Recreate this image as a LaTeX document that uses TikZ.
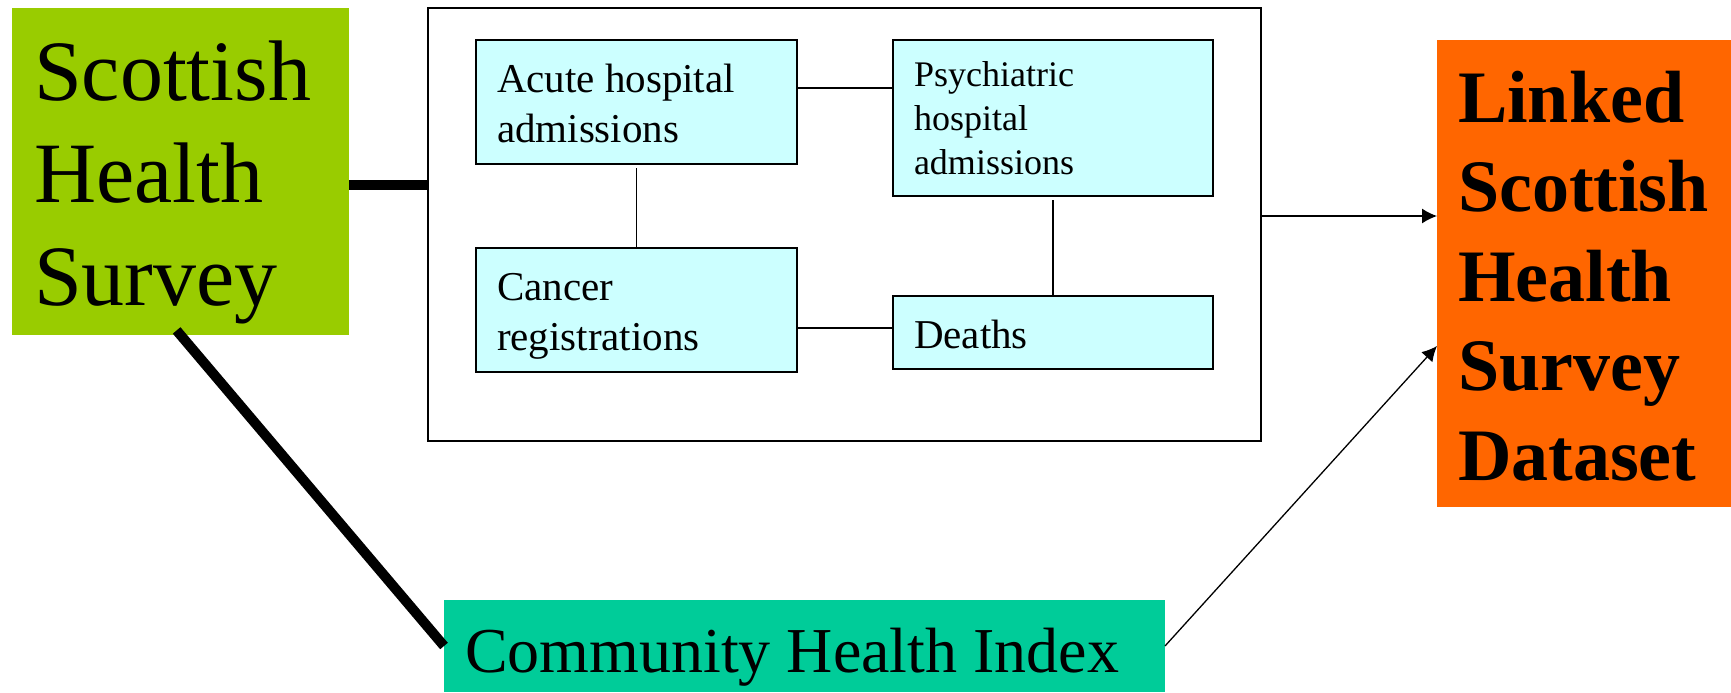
\documentclass[tikz,border=0pt]{standalone}
\usepackage{fontspec}
\setmainfont{Liberation Serif}
\usetikzlibrary{arrows.meta}
\definecolor{shsgreen}{HTML}{99CC00}
\definecolor{boxcyan}{HTML}{CCFFFF}
\definecolor{linkorange}{HTML}{FF6600}
\definecolor{chiteal}{HTML}{00CC99}
% #1 width, #2 height, #3 left pad, #4 first baseline, #5 font size, #6 baselineskip, #7 text
\newcommand\boxtext[7]{\parbox[c][#2][t]{#1}{\fontsize{#5}{#6}\selectfont\leftskip=#3\relax\rightskip=0pt plus 1fil\relax\parindent=0pt\relax
\vspace*{\dimexpr#4-#5\relax}\rule{0pt}{#5}#7\par}}
\tikzset{
  plainbox/.style={anchor=north west, inner sep=0pt, outer sep=0pt},
  srcbox/.style={plainbox, draw=black, line width=0.6pt, fill=boxcyan},
  thinlink/.style={line width=0.6pt},
  thicklink/.style={line width=5pt},
  arrowlink/.style={line width=0.65pt, -{Latex[length=7.5pt,width=7.5pt]}}
}
\begin{document}
\begin{tikzpicture}[x=0.5pt,y=-0.5pt]
\useasboundingbox (0,0) rectangle (1731,692);
% main boxes
\node[plainbox, fill=shsgreen] (shs) at (12,8)
  {\boxtext{168.5pt}{163.5pt}{11pt}{46pt}{43pt}{51.25pt}{Scottish\\Health\\Survey}};
\node[plainbox, draw=black, line width=0.6pt, minimum width=416.5pt, minimum height=216.5pt] (outer) at (428,8) {};
\node[srcbox] (acute) at (476,40)
  {\boxtext{160.5pt}{62pt}{10.5pt}{26pt}{20.5pt}{25pt}{Acute hospital\\admissions}};
\node[srcbox] (psych) at (893,40)
  {\boxtext{160pt}{78pt}{10.5pt}{23pt}{18pt}{22pt}{Psychiatric\\hospital\\admissions}};
\node[srcbox] (cancer) at (476,248)
  {\boxtext{160.5pt}{62pt}{10.5pt}{26pt}{20.5pt}{25pt}{Cancer\\registrations}};
\node[srcbox] (deaths) at (893,296)
  {\boxtext{160pt}{36.5pt}{10.5pt}{26pt}{20.5pt}{25pt}{Deaths}};
\node[plainbox, fill=linkorange] (linked) at (1437,40)
  {\boxtext{147pt}{233.5pt}{10.5pt}{41pt}{37pt}{44.75pt}{\bfseries Linked\\Scottish\\Health\\Survey\\Dataset}};
\node[plainbox, fill=chiteal] (chi) at (444,600)
  {\boxtext{360.5pt}{46pt}{10.5pt}{36pt}{32pt}{38pt}{Community Health Index}};
% helper coordinates for connector heights
\coordinate (yap) at (0,88);
\coordinate (ycd) at (0,328);
\coordinate (yshs) at (0,185);
\coordinate (yout) at (0,216);
\coordinate (ychi) at (0,346);
% links inside the outer box
\draw[thinlink] (acute.east |- yap) -- (psych.west |- yap);
\draw[thinlink] (cancer.east |- ycd) -- (deaths.west |- ycd);
\draw[thinlink] ([yshift=-2pt]acute.south) -- (cancer.north);
\draw[thinlink] ([yshift=-2pt]psych.south) -- (deaths.north);
% thick links from the survey
\draw[thicklink] (shs.east |- yshs) -- (outer.west |- yshs);
\draw[thicklink, shorten <=-3pt] (shs.south) -- (chi.west);
% arrows to the linked dataset
\draw[arrowlink] (outer.east |- yout) -- (linked.west |- yout);
\draw[arrowlink] (chi.east) -- (linked.west |- ychi);
\end{tikzpicture}
\end{document}
